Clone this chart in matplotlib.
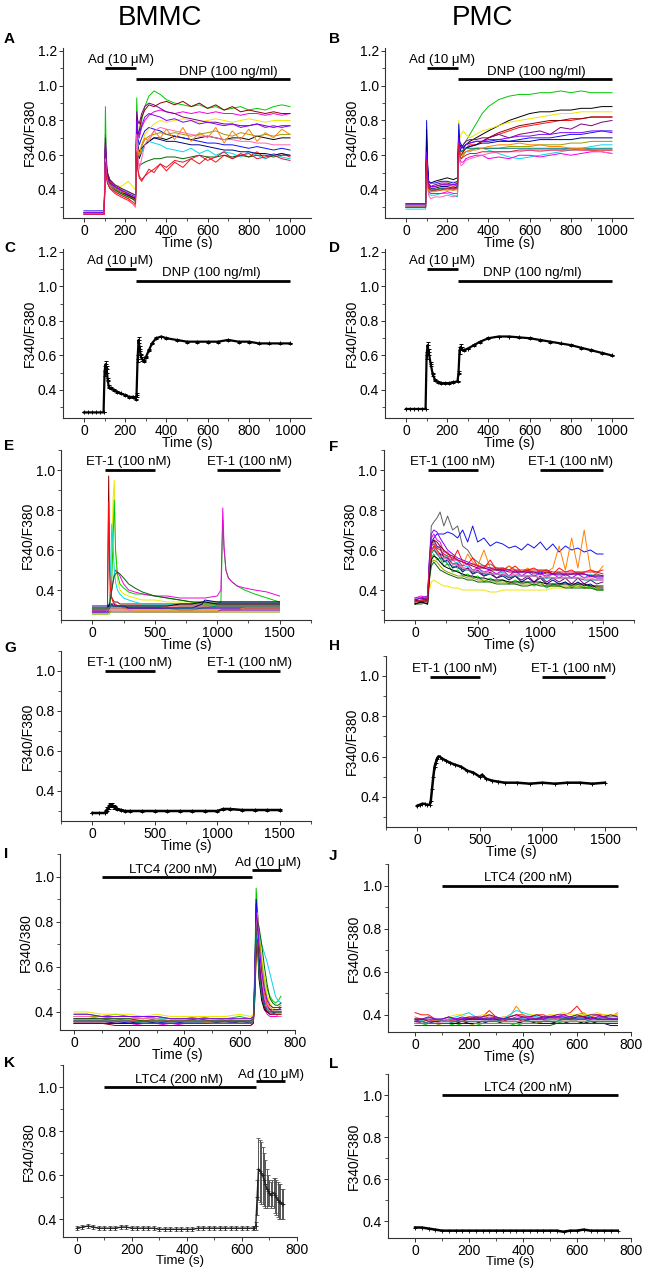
import matplotlib
matplotlib.use('Agg')
import matplotlib.pyplot as plt
from matplotlib import font_manager
import numpy as np

names = {f.name for f in font_manager.fontManager.ttflist}
FONT = 'Liberation Sans Narrow' if 'Liberation Sans Narrow' in names else 'Liberation Sans'
plt.rcParams['font.family'] = [FONT, 'DejaVu Sans']

# ---------------- DATA (ratios in hundredths) ----------------
# Panel A : BMMC, Ad then DNP (single cells)
tA = [0, 98, 104, 108, 114, 125, 150, 180, 215, 250, 256, 261, 268, 280, 295, 315, 340, 370, 400, 440,
      480, 520, 560, 600, 640, 680, 720, 760, 800, 840, 880, 920, 960, 1000]
A_traces = [
    [27,27,62,52,47,44,41,39,37,35, 70,62,58,62,66,68,70,70,69,71, 70,69,70,71,70,69,70,70,69,71, 70,69,70,70],
    [26,26,55,48,44,41,38,36,34,31, 60,52,47,45,48,50,52,55,51,56, 53,58,55,59,56,60,58,61,59,62, 58,60,61,59],
    [27,27,88,60,50,46,43,41,39,37, 93,75,70,80,88,94,97,95,92,90, 89,88,89,87,88,86,87,88,86,87, 86,88,89,88],
    [28,28,65,52,47,44,41,39,37,35, 82,70,66,70,74,76,75,74,72,71, 70,69,68,67,67,66,66,65,64,65, 64,63,64,63],
    [26,26,60,50,46,43,40,38,36,34, 78,66,60,62,66,68,67,66,64,63, 62,64,61,63,60,62,61,59,62,60, 58,61,59,58],
    [27,27,72,55,49,45,42,40,38,33, 80,72,70,76,80,83,85,86,85,84, 85,84,85,84,85,84,84,83,84,84, 83,84,83,84],
    [27,27,58,50,46,45,43,42,45,40, 68,62,60,66,72,75,78,80,79,80, 81,80,79,80,81,80,79,80,81,80, 79,80,80,80],
    [26,26,60,50,45,43,40,38,36,34, 70,62,60,65,69,71,72,73,72,73, 72,71,72,73,74,72,71,73,72,71, 72,71,72,72],
    [27,27,67,54,48,44,41,39,37,35, 75,66,62,64,66,68,70,69,68,68, 67,66,66,65,64,63,63,62,62,61, 61,60,61,60],
    [27,27,70,56,50,46,43,41,39,37, 85,80,78,84,88,90,89,87,85,84, 82,81,80,79,79,78,78,77,77,78, 77,76,77,77],
    [26,26,64,53,48,45,42,40,37,35, 78,72,74,82,86,89,88,90,91,89, 91,88,90,87,89,86,88,85,86,85, 84,85,84,84],
    [27,27,60,50,45,42,40,38,36,34, 66,58,54,55,56,57,58,58,59,59, 58,59,60,59,59,60,59,60,59,60, 60,59,60,60],
    [27,27,62,51,46,44,41,39,38,36, 72,64,60,66,70,68,74,70,75,69, 76,68,73,70,76,67,74,69,75,68, 73,70,75,72],
    [27,27,66,53,47,44,42,40,38,36, 80,74,72,77,82,84,83,82,80,81, 79,80,78,79,78,77,78,76,77,78, 76,77,76,77],
    [26,26,58,49,45,42,39,37,35,30, 72,60,52,58,66,70,74,76,75,74, 73,72,71,71,70,69,69,68,68,67, 67,66,66,66],
    [26,26,56,48,44,41,39,37,35,32, 62,52,48,46,48,52,50,55,53,57, 56,58,60,57,59,62,58,60,61,58, 59,60,58,57],
]
A_colors = ['black','red','green','blue','cyan','magenta','yellow','olive','navy','purple',
            'wine','darkgreen','orange','violet','pink','crimson']

# Panel B : PMC, Ad then DNP (single cells)
tB = [0, 95, 100, 104, 110, 120, 140, 170, 200, 230, 250, 256, 261, 268, 278, 290, 310, 340, 370, 400,
      450, 500, 550, 600, 650, 700, 750, 800, 850, 900, 950, 1000]
B_traces = [
    [31,31,60,50,42,40,40,41,40,41, 42,70,62,64,66,68,72,78,84,88, 92,94,95,95,96,96,97,96,97,96, 96,96],
    [32,32,70,55,45,44,45,46,47,46, 47,75,65,66,64,66,68,70,72,74, 77,80,82,84,85,85,86,86,87,87, 88,88],
    [30,30,58,48,42,41,42,43,44,45, 44,80,70,72,74,72,70,72,74,75, 77,79,80,81,82,83,84,84,85,85, 85,85],
    [31,31,62,50,43,42,42,43,43,42, 43,72,62,60,62,64,66,66,68,70, 72,74,76,77,78,79,80,80,81,82, 82,82],
    [30,30,55,46,40,39,40,41,41,40, 41,68,60,60,62,64,65,66,68,70, 73,75,77,78,79,80,80,81,81,82, 82,82],
    [32,32,65,52,44,42,43,44,44,43, 44,74,66,64,66,68,69,69,70,70, 72,70,72,73,74,72,76,75,78,77, 79,80],
    [31,31,80,58,45,44,44,45,45,44, 45,78,68,66,64,66,67,68,68,68, 69,68,69,70,70,70,71,72,72,73, 74,74],
    [30,30,75,55,42,41,41,42,42,41, 42,70,64,62,63,64,65,66,67,67, 68,68,68,68,69,69,69,69,70,70, 70,70],
    [29,29,52,44,38,37,37,38,38,37, 36,65,60,58,60,62,62,64,64,63, 61,59,58,59,60,61,62,63,64,65, 66,66],
    [30,30,55,45,39,38,38,38,39,38, 38,64,58,56,56,58,59,60,60,58, 59,58,60,60,59,60,61,60,61,62, 62,61],
    [30,30,50,42,37,35,36,36,37,36, 37,62,56,54,55,57,58,59,60,61, 62,62,62,63,62,63,63,64,63,63, 62,61],
    [31,31,58,47,40,39,40,40,41,40, 41,66,60,60,61,62,63,64,64,64, 64,65,65,65,66,66,66,67,67,68, 68,68],
    [30,30,60,48,41,40,40,41,41,41, 41,68,62,62,63,64,64,64,64,64, 64,64,64,64,64,64,64,64,64,64, 64,64],
    [31,31,56,46,40,39,39,40,40,40, 40,66,60,58,60,62,63,63,64,65, 66,66,67,66,66,65,65,64,64,63, 63,63],
    [32,32,62,50,43,42,42,43,43,43, 43,70,64,64,65,66,67,68,68,69, 69,70,71,71,72,72,73,73,73,74, 74,73],
    [30,30,57,47,41,40,40,40,41,41, 41,67,60,58,59,60,61,61,62,62, 62,62,63,63,63,63,63,63,63,63, 63,63],
]
B_colors = ['green','black','yellow','red','wine','purple','blue','navy','cyan','magenta',
            'pink','olive','teal','orange','violet','crimson']

# Panel C : BMMC mean +/- SEM
tC = [0,20,40,60,80,95, 100,105,110,115,120, 130,145,160,180,200,220,240,250,
      255,260,265,270,275,280,290,300, 315,330,350,375,400,
      450,500,550,600,650,700,750,800,850,900,950,1000]
vC = [27,27,27,27,27,27, 51,55,52,46,42, 41,40,39,38,37,36,36,35,
      37,58,69,64,60,58,57,59, 63,67,70,71,70,
      69,68,68,68,68,69,68,68,67,67,67,67]
eC = [0,0,0,0,0,0, 3,2,2,1,1, 0.5,0.5,0.5,0.5,0.5,0.5,0.5,1,
      1,2,2,1.5,1,1,0.5,0.5, 0.5,0.5,0.5,0.5,0.5,
      0.5,0.5,0.5,0.5,0.5,0.5,0.5,0.5,0.5,0.5,0.5,0.5]

# Panel D : PMC mean +/- SEM
tD = [0,20,40,60,80,95, 100,105,110,120,130,140,155,170,190,210,230,250,
      255,260,265,270,280,300,330,360,400,450,500,550,600,650,700,750,800,850,900,950,1000]
vD = [29,29,29,29,29,29, 60,66,62,55,49,46,44.5,44,44,44,44.5,45,
      50,63,65,64,63,64,66,68,70,71,71,70.5,70,69,68,67,66,64.5,63,61.5,60]
eD = [0,0,0,0,0,0, 2,2,1.5,1,1,0.5,0.5,0.5,0.5,0.5,0.5,0.5,
      1,2,1.5,1,0.5,0.5,0.5,0.5,0.5,0.5,0.5,0.5,0.5,0.5,0.5,0.5,0.5,0.5,0.5,0.5,0.5]

# Panel E : BMMC, ET-1 (single cells)
tE = [0,100,120,130,137,145,155,165,175,185, 200,220,250,290,340,400,500,600,700,800,
      880,900,1000,1030,1045,1055,1070,1090,1120,1160, 1220,1300,1400,1500]
E_traces = [
    [30,30,31,97,55,40,36,35,34,34, 34,33,33,33,33,33,33,33,33,33, 33,33,33,33,33,33,33,33,33,33, 33,33,33,33],
    [29,29,30,31,33,40,60,85,95,60, 45,40,38,37,36,35,35,34,34,34, 34,32,32,32,32,32,32,32,32,32, 32,32,32,32],
    [31,31,31,32,33,35,45,65,85,60, 48,43,41,39,38,38,37,36,35,34, 33,33,33,34,75,60,50,46,44,42, 40,38,36,34],
    [30,30,31,32,34,37,40,44,48,50, 49,47,43,40,39,38,37,37,36,36, 36,36,37,40,81,62,50,46,44,42, 41,40,39,37],
    [29,29,30,31,35,50,73,62,50,44, 40,38,36,35,34,33,33,33,32,32, 32,32,32,32,32,32,32,32,32,32, 32,32,32,32],
    [30,30,31,32,33,36,40,44,47,48, 49,48,46,43,41,39,37,36,35,34, 34,34,34,34,34,34,34,34,34,34, 34,34,34,34],
    [30,30,31,84,50,40,36,34,33,33, 32,32,32,32,32,32,32,32,32,32, 32,32,32,32,32,32,32,32,32,32, 32,32,32,32],
    [31,31,31,32,32,32,32,32,32,32, 32,32,32,32,32,32,32,32,33,33, 34,34,33,33,33,33,33,33,33,33, 33,33,33,33],
    [30,30,30,30,31,31,31,31,31,31, 31,31,31,31,31,31,31,31,31,31, 31,31,31,31,31,31,31,31,31,31, 31,31,31,31],
    [32,32,32,32,33,33,33,32,32,32, 32,32,32,31,31,31,31,31,31,31, 33,35,34,34,34,34,34,34,34,34, 34,34,34,34],
    [29,29,29,30,31,32,33,33,33,32, 32,32,31,31,31,31,31,31,30,30, 31,31,31,31,31,31,31,31,31,31, 31,31,31,31],
    [28,28,28,29,29,30,30,30,30,30, 30,30,30,30,30,30,30,30,30,30, 30,30,30,30,30,30,30,30,30,30, 30,30,30,30],
    [31,31,31,31,31,31,31,31,31,31, 31,31,31,30,30,30,30,30,30,30, 30,30,30,30,30,30,30,30,30,30, 31,31,31,31],
    [29,29,29,29,29,29,29,29,29,29, 29,29,29,29,29,29,29,29,29,29, 29,29,29,30,30,30,30,30,30,30, 30,30,30,30],
    [30,30,30,30,30,30,30,30,30,30, 30,30,30,30,29,29,29,29,29,29, 29,29,29,29,29,29,29,29,29,29, 29,29,29,29],
    [31,31,31,31,31,32,32,32,32,32, 32,32,32,32,32,32,32,31,31,31, 31,31,32,32,32,32,32,32,32,32, 32,32,32,32],
    [28,28,28,28,28,29,29,29,29,29, 29,29,29,29,29,29,29,29,29,29, 29,29,29,29,29,29,29,29,29,29, 29,29,29,29],
]
E_colors = ['wine','yellow','green','magenta','cyan','darkgreen','red','black','blue','navy',
            'purple','olive','orange','violet','pink','teal','lime']

# Panel F : PMC, ET-1 (single cells)
tF = [0,50,100,115,130,150,175,200,230,260, 300,340,380,420,460,500,550,600,650,700,
      750,800,850,900,950,1000,1050,1100,1150,1200, 1250,1300,1350,1400,1450,1500]
F_traces = [
    [35,36,35,55,72,74,76,79,72,77, 70,72,62,60,56,54,52,53,51,50, 52,50,49,50,48,49,50,48,49,47, 48,49,48,47,48,47],
    [34,35,36,50,64,66,68,68,68,69, 68,66,70,64,72,64,66,62,64,63, 61,62,60,63,61,64,60,63,59,62, 60,61,59,60,58,58],
    [33,35,34,48,58,62,60,57,55,54, 55,53,52,58,54,52,60,51,50,49, 52,50,49,51,48,50,49,51,62,50, 66,51,70,50,48,52],
    [35,34,36,50,60,62,60,58,57,56, 55,60,54,53,56,52,51,55,50,51, 50,52,49,50,51,49,50,48,51,49, 50,48,49,50,49,50],
    [34,33,34,40,44,45,44,43,42,42, 41,41,40,40,40,40,40,39,39,40, 40,40,40,40,40,40,40,41,41,41, 42,42,42,42,42,41],
    [33,34,33,48,56,58,55,56,52,53, 49,50,47,48,46,47,44,46,44,45, 43,45,43,44,42,44,41,43,42,44, 41,43,41,42,40,40],
    [34,35,34,52,62,64,61,62,57,57, 53,54,51,52,49,51,48,50,48,49, 47,49,47,49,47,49,46,48,47,48, 46,48,46,48,46,46],
    [36,37,36,55,66,68,65,64,59,59, 55,55,52,53,50,51,49,50,48,50, 47,50,47,49,47,48,47,48,46,48, 46,48,46,47,46,46],
    [33,34,33,50,60,61,58,58,54,55, 51,52,49,51,48,49,47,48,46,47, 45,47,44,46,44,46,43,45,43,44, 42,44,42,43,41,41],
    [35,36,35,52,63,65,62,61,56,56, 53,53,50,51,48,50,47,49,46,48, 46,47,45,47,44,47,44,46,44,46, 43,46,43,45,43,44],
    [34,35,34,46,54,55,54,52,50,49, 48,47,47,46,46,45,45,44,44,44, 44,43,43,43,43,43,42,42,42,42, 42,42,41,41,41,40],
    [35,34,35,53,63,65,64,62,60,58, 57,55,54,53,52,51,51,50,50,50, 49,49,49,49,49,48,49,48,48,48, 48,48,48,47,47,47],
    [33,33,34,45,52,54,52,50,49,48, 47,46,46,45,45,44,44,44,43,43, 43,43,42,42,43,42,42,42,42,41, 41,41,41,41,40,40],
    [34,34,33,48,58,60,58,56,55,53, 52,51,50,50,49,49,48,48,48,47, 47,47,47,47,47,46,46,46,46,46, 46,46,45,45,45,45],
    [36,36,37,56,68,70,69,66,63,60, 58,56,55,54,53,52,51,51,50,50, 50,49,49,49,49,49,48,48,48,48, 48,48,48,47,47,47],
    [34,33,34,50,60,61,59,57,56,55, 53,52,51,50,50,49,49,48,48,48, 47,48,47,47,47,46,47,46,46,46, 46,46,46,46,45,45],
    [33,34,33,47,55,57,56,54,52,51, 50,49,48,47,47,46,46,45,45,45, 44,44,44,44,44,44,43,43,43,43, 43,43,43,42,42,42],
    [34,35,34,52,62,63,61,60,58,57, 56,55,54,53,53,52,52,51,51,51, 50,50,50,50,50,50,50,49,49,49, 49,49,49,49,49,48],
]
F_colors = ['gray','blue','orange','red','yellow','green','cyan','magenta','navy','purple',
            'olive','wine','darkgreen','teal','violet','pink','black','crimson']

# Panel G : BMMC mean, ET-1
tG = [0,50,100,110,120,130,140,150,160,170,180,200,230,260,300,400,500,600,700,800,900,1000,
      1050,1100,1200,1300,1400,1500]
vG = [29,29,29,30,31,32,33,33,33,32,32,31,30.5,30,30,30,30,30,30,30,30,30,
      31,31,30.5,30.5,30.5,30.5]
eG = [0,0,0,0.5,1,1,1,1,1,1,0.5,0.5,0.3,0.3,0.3,0.3,0.3,0.3,0.3,0.3,0.3,0.3,
      0.3,0.3,0.3,0.3,0.3,0.3]

# Panel H : PMC mean, ET-1
tH = [0,20,40,60,80,100,110,120,130,140,150,160,170,180,200,230,260,300,350,400,450,500,520,550,
      600,650,700,800,900,1000,1100,1200,1300,1400,1500]
vH = [35.5,36,36.5,36.5,36,36,38,44,50,55,57,59,60,60,59,58,57,56,55,53,52,50,51,49,
      48,47.5,47,47,46.5,47,46.5,47,47,46.5,47]

# Panel I : BMMC, LTC4 then Ad (single cells)
tI = [0,50,100,150,200,250,300,350,400,450, 500,550,600,640,650,655,660,665,670,680,
      690,700,710,720,730,740,750]
I_traces = [
    [39,39,38,39,38,37,38,37,37,38, 37,37,38,37,38,60,95,85,75,62, 55,50,47,45,44,45,47],
    [36,36,36,35,35,36,35,35,35,35, 35,36,35,35,36,55,90,80,65,50, 43,40,39,39,40,40,40],
    [37,37,37,37,36,36,37,36,36,36, 36,36,36,36,37,50,75,83,72,58, 48,43,41,40,39,39,39],
    [38,38,38,37,37,38,37,37,37,36, 36,37,36,36,37,48,70,80,76,70, 66,62,57,52,47,45,44],
    [35,35,35,35,35,34,34,35,34,34, 34,34,34,34,35,52,82,78,62,47, 41,39,38,38,38,38,38],
    [40,40,39,39,39,38,39,38,38,38, 38,38,39,38,39,48,65,78,74,65, 55,48,44,42,41,41,41],
    [35,35,35,35,35,35,35,35,35,35, 35,35,35,35,36,50,85,70,55,45, 41,40,40,40,40,40,40],
    [36,36,36,36,35,35,35,36,35,35, 35,35,36,35,36,53,88,82,66,52, 45,42,41,41,41,41,41],
    [37,37,37,36,36,36,36,36,36,37, 36,36,36,36,37,48,72,76,66,52, 45,42,41,41,41,41,42],
    [38,38,38,37,37,37,38,37,37,37, 37,37,37,37,38,52,78,82,75,62, 52,46,43,42,42,42,43],
    [36,36,36,36,36,36,36,36,36,36, 35,35,35,35,36,46,66,76,70,58, 49,44,42,41,40,40,40],
    [38,38,37,37,37,37,37,36,36,36, 36,36,36,36,37,50,78,84,72,56, 46,42,40,39,39,38,38],
    [37,37,37,37,37,36,36,36,36,36, 36,36,36,36,37,50,70,80,78,70, 60,52,46,44,43,43,44],
    [35,35,35,34,34,34,34,34,34,34, 34,34,34,34,35,45,65,72,60,48, 42,40,39,39,39,39,39],
    [39,39,38,38,38,38,38,37,37,37, 37,37,37,37,38,55,85,80,70,58, 50,45,43,42,42,42,42],
    [36,36,36,36,36,35,35,35,35,35, 35,35,35,35,36,48,74,70,58,48, 43,41,40,40,40,40,40],
]
I_colors = ['green','navy','red','cyan','magenta','yellow','black','blue','purple','olive',
            'orange','pink','darkgreen','wine','violet','teal']

# Panel J : PMC, LTC4 (single cells)
tJ = [0,25,50,75,100,125,150,175,200,225,250,275,300,325,350,375,400,425,450,475,500,
      525,550,575,600,625,650,675,700,725,750]
J_traces = [
    [41,40,40,38,37,37,38,38,39,38, 39,42,39,38,39,40,40,39,40,40, 39,39,40,41,44,40,39,40,40,39, 40],
    [39,38,38,37,38,38,37,38,38,39, 38,40,38,39,39,44,40,39,38,39, 40,39,38,39,40,41,39,40,39,39, 41],
    [38,38,37,38,37,38,38,38,38,38, 38,39,38,38,38,39,39,39,39,38, 39,38,38,38,39,39,38,39,39,38, 38],
    [36,36,35,35,35,35,36,35,35,35, 36,36,36,36,36,35,36,36,36,36, 36,36,37,37,37,36,36,36,36,36, 36],
    [37,37,36,36,36,36,36,36,36,36, 36,37,37,37,37,37,36,36,36,36, 36,36,36,36,36,36,36,36,36,35, 35],
    [38,37,39,38,37,38,39,40,41,39, 38,38,39,38,40,42,41,40,39,39, 38,39,38,39,39,40,39,38,39,39, 39],
    [37,38,37,37,38,39,40,40,39,39, 40,40,39,38,38,38,39,40,40,39, 40,40,41,40,40,40,40,41,40,40, 40],
    [36,36,36,37,37,37,37,38,38,38, 38,38,38,38,38,38,38,38,38,39, 39,39,39,38,38,38,39,38,38,38, 38],
    [38,38,39,38,38,39,38,39,38,39, 39,40,39,38,39,40,39,39,40,39, 39,40,40,39,40,39,40,40,39,40, 39],
    [37,36,36,36,36,36,36,37,36,36, 37,37,37,36,36,36,37,37,36,37, 37,36,36,37,37,36,37,36,36,36, 36],
    [36,36,36,36,35,35,35,35,35,36, 36,36,36,36,36,36,36,36,36,37, 37,37,37,37,37,37,37,37,37,37, 37],
    [38,38,37,37,37,37,37,37,38,38, 38,38,38,37,38,38,37,38,38,38, 38,38,38,38,39,39,38,38,38,38, 38],
    [36,37,36,36,37,37,37,37,37,37, 37,37,37,37,37,37,37,37,37,37, 38,38,37,37,37,37,37,37,37,37, 37],
    [35,35,35,35,35,35,35,35,35,35, 35,35,35,35,35,35,35,35,35,35, 35,36,36,36,36,36,36,36,36,36, 36],
    [37,38,38,38,38,39,38,38,39,39, 38,38,39,38,38,38,39,38,38,38, 39,39,39,39,38,38,38,39,39,38, 38],
    [37,37,36,36,36,36,37,37,37,37, 37,37,37,38,38,38,38,37,37,37, 37,37,38,38,38,38,37,37,37,37, 37],
]
J_colors = ['red','orange','magenta','green','navy','cyan','yellow','blue','purple','black',
            'olive','wine','pink','darkgreen','violet','teal']

# Panel K : BMMC mean +/- SEM, LTC4 then Ad
tK = [0,20,40,60,80,100,120,140,160,180,200,220,240,260,280,300,320,340,360,380,400,
      420,440,460,480,500,520,540,560,580,600,620,640,
      645,650,655,660,665,670,675,680,685,690,695,700,705,710,715,720,725,730,735,740,745,750]
vK = [36,36.5,37,36.5,36,36,36,36,36.5,36.5,36,36,36,36,36,35.5,35.5,35.5,35.5,35.5,35.5,
      35.5,36,36,36,36,36,36,36,36,36,36,36,
      36,37,50,63,62,61,60,58,56,54,53,52,51,52,52,51,50,49,48,48,47,47]
eK = [1]*33 + [1,2,8,14,14,14,13,12,11,9,7,6,6,6,7,8,8,8,8,8,7,7]

# Panel L : PMC mean, LTC4
tL = [0,25,50,75,100,125,150,175,200,225,250,275,300,325,350,375,400,425,450,475,500,
      525,550,575,600,625,650,675,700,725,750]
vL = [37,37,36.5,36,35.5,35.5,35.5,35.5,35.5,35.5,35.5,35.5,35.5,35.5,35.5,35.5,35.5,35.5,35.5,35.5,35.5,
      35.5,35,35.5,35.5,36,35.5,35.5,35.5,35.5,35.5]

# ---------------- STYLE ----------------
COL = {'black': '#000000', 'red': '#FF1010', 'green': '#00C800', 'blue': '#1010F0',
       'cyan': '#00D8E8', 'magenta': '#F000E0', 'yellow': '#EEE600', 'olive': '#9A9A00',
       'navy': '#000080', 'purple': '#800080', 'wine': '#8B0000', 'darkgreen': '#006400',
       'teal': '#008080', 'orange': '#FF8000', 'violet': '#8000FF', 'pink': '#FF66B3',
       'crimson': '#DC143C', 'lime': '#7FD400', 'gray': '#606060'}

W, H = 646, 1272
fig = plt.figure(figsize=(W / 100, H / 100), dpi=100)
FS = 10          # tick / axis label size
FA = 9.5         # annotation size


def make_ax(l, r, t, b):
    return fig.add_axes([l / W, 1 - b / H, (r - l) / W, (b - t) / H])


def style(ax, xlim, ylim, xt, xminor, yt, yminor, ylabel='F340/F380', xpad=-1.5, xfs=FS):
    ax.set_xlim(*xlim)
    ax.set_ylim(*ylim)
    ax.set_xticks(xt)
    ax.set_xticks(xminor, minor=True)
    ax.set_yticks(yt)
    ax.set_yticks(yminor, minor=True)
    ax.set_yticklabels(['%.1f' % v for v in yt])
    for sp in ['top', 'right']:
        ax.spines[sp].set_visible(False)
    for sp in ['left', 'bottom']:
        ax.spines[sp].set_linewidth(0.8)
        ax.spines[sp].set_color('#333333')
    ax.tick_params(which='major', direction='out', length=3, width=0.7, labelsize=FS, pad=1.5,
                   color='#333333')
    ax.tick_params(which='minor', direction='out', length=2, width=0.6, color='#333333')
    ax.set_ylabel(ylabel, fontsize=FS, labelpad=1)
    ax.set_xlabel('Time (s)', fontsize=xfs, labelpad=xpad)


def bar(ax, x0, x1, y, label, tx, ty):
    ax.plot([x0, x1], [y, y], color='k', lw=2.0, solid_capstyle='butt', clip_on=False, zorder=5)
    ax.text(tx, ty, label, ha='center', va='center', fontsize=FA, zorder=5)


def traces(ax, t, rows, cols):
    for row, c in zip(rows, cols):
        ax.plot(t, np.array(row) / 100.0, color=COL[c], lw=0.7)


def mean_err(ax, t, v, e, lw=1.6):
    ax.errorbar(t, np.array(v) / 100.0, yerr=np.array(e) / 100.0, fmt='-', marker='+',
                color='k', lw=lw, ms=3, mew=0.7, elinewidth=0.6, capsize=1.5, capthick=0.6)


xA = ([0, 200, 400, 600, 800, 1000], [100, 300, 500, 700, 900])
yA = ([0.4, 0.6, 0.8, 1.0, 1.2], [0.3, 0.5, 0.7, 0.9, 1.1])
xE = ([0, 500, 1000, 1500], [-250, 250, 750, 1250, 1750])
yE = ([0.4, 0.6, 0.8, 1.0], [0.3, 0.5, 0.7, 0.9, 1.1])
xI = ([0, 200, 400, 600, 800], [100, 300, 500, 700])
yI = ([0.4, 0.6, 0.8, 1.0], [0.5, 0.7, 0.9, 1.1])
AD = 'Ad (10 \u03bcM)'
DNP = 'DNP (100 ng/ml)'
ET = 'ET-1 (100 nM)'
LTC = 'LTC4 (200 nM)'

# A
ax = make_ax(63.4, 310.6, 47.5, 217.8)
traces(ax, tA, A_traces, A_colors)
style(ax, (-100, 1100), (0.24, 1.22), xA[0], xA[1], yA[0], yA[1])
bar(ax, 100, 250, 1.10, AD, 180, 1.148)
bar(ax, 250, 1000, 1.04, DNP, 700, 1.08)

# B
ax = make_ax(385.4, 632.6, 47.5, 217.8)
traces(ax, tB, B_traces, B_colors)
style(ax, (-100, 1100), (0.24, 1.22), xA[0], xA[1], yA[0], yA[1])
bar(ax, 100, 250, 1.10, AD, 174, 1.148)
bar(ax, 250, 1000, 1.04, DNP, 633, 1.08)

# C
ax = make_ax(63.4, 310.6, 248.5, 417.6)
mean_err(ax, tC, vC, eC)
style(ax, (-100, 1100), (0.24, 1.22), xA[0], xA[1], yA[0], yA[1])
bar(ax, 100, 250, 1.10, AD, 175, 1.148)
bar(ax, 250, 1000, 1.03, DNP, 620, 1.078)

# D
ax = make_ax(385.4, 632.6, 248.5, 417.6)
mean_err(ax, tD, vD, eD)
style(ax, (-100, 1100), (0.24, 1.22), xA[0], xA[1], yA[0], yA[1])
bar(ax, 100, 250, 1.10, AD, 175, 1.148)
bar(ax, 250, 1000, 1.03, DNP, 611, 1.078)

# E
ax = make_ax(61.3, 310.7, 450, 620)
traces(ax, tE, E_traces, E_colors)
style(ax, (-250, 1750), (0.25, 1.1), xE[0], xE[1], yE[0], yE[1])
bar(ax, 100, 500, 1.0, ET, 292, 1.04)
bar(ax, 1000, 1500, 1.0, ET, 1260, 1.04)

# F
ax = make_ax(383.7, 634.3, 450, 620)
traces(ax, tF, F_traces, F_colors)
style(ax, (-250, 1750), (0.25, 1.1), xE[0], xE[1], yE[0], yE[1])
bar(ax, 100, 500, 1.0, ET, 296, 1.04)
bar(ax, 1000, 1500, 1.0, ET, 1237, 1.04)

# G
ax = make_ax(61.3, 310.7, 651, 821)
mean_err(ax, tG, vG, eG, lw=1.8)
style(ax, (-250, 1750), (0.25, 1.1), xE[0], xE[1], yE[0], yE[1])
bar(ax, 100, 500, 1.0, ET, 296, 1.04)
bar(ax, 1000, 1500, 1.0, ET, 1257, 1.04)

# H
ax = make_ax(385.7, 636.3, 655.8, 827)
ax.plot(tH, np.array(vH) / 100.0, color='k', lw=1.8, marker='+', ms=3, mew=0.7)
style(ax, (-250, 1750), (0.25, 1.1), xE[0], xE[1], yE[0], yE[1])
bar(ax, 100, 500, 0.995, ET, 296, 1.035)
bar(ax, 1000, 1500, 0.995, ET, 1250, 1.035)

# I
ax = make_ax(60.2, 294.8, 854.3, 1030)
traces(ax, tI, I_traces, I_colors)
style(ax, (-50, 800), (0.32, 1.1), xI[0], xI[1], yI[0], yI[1], ylabel='F340/380', xpad=-1.3)
bar(ax, 100, 645, 1.0, LTC, 360, 1.03)
bar(ax, 645, 750, 1.03, AD, 704, 1.06)

# J
ax = make_ax(388, 631, 864.3, 1032)
traces(ax, tJ, J_traces, J_colors)
style(ax, (-100, 800), (0.32, 1.1), xI[0], xI[1], yI[0], yI[1], xpad=-1.3)
bar(ax, 100, 750, 1.0, LTC, 420, 1.035)

# K
ax = make_ax(63.2, 297, 1065.3, 1237)
ax.errorbar(tK, np.array(vK) / 100.0, yerr=np.array(eK) / 100.0, fmt='-', marker='+',
            color='#222222', ecolor='#555555', lw=1.0, ms=2.5, mew=0.6, elinewidth=0.7,
            capsize=1.2, capthick=0.6)
style(ax, (-50, 800), (0.32, 1.1), xI[0], xI[1], yI[0], yI[1], ylabel='F340/380',
      xpad=-1.3, xfs=9.5)
bar(ax, 100, 650, 1.0, LTC, 372, 1.035)
bar(ax, 650, 755, 1.03, AD, 705, 1.057)

# L
ax = make_ax(388, 631, 1074.3, 1238)
ax.plot(tL, np.array(vL) / 100.0, color='k', lw=1.8, marker='+', ms=2.5, mew=0.6)
style(ax, (-100, 800), (0.32, 1.1), xI[0], xI[1], yI[0], yI[1], xpad=-1.3, xfs=9.5)
bar(ax, 100, 750, 1.0, LTC, 420, 1.035)

# Column headers and panel letters
fig.text(160 / W, 1 - 18 / H, 'BMMC', ha='center', va='center', fontsize=20,
         family=['Liberation Sans', 'DejaVu Sans'])
fig.text(483 / W, 1 - 18 / H, 'PMC', ha='center', va='center', fontsize=20,
         family=['Liberation Sans', 'DejaVu Sans'])
letters = [('A', 4, 39), ('B', 329, 39), ('C', 4, 248), ('D', 329, 248),
           ('E', 4, 446), ('F', 329, 447), ('G', 4, 648), ('H', 329, 646),
           ('I', 4, 854), ('J', 329, 856), ('K', 4, 1063), ('L', 329, 1064)]
for s, x, y in letters:
    fig.text(x / W, 1 - y / H, s, ha='left', va='center', fontsize=11, fontweight='bold',
             family=['Liberation Sans', 'DejaVu Sans'])

fig.savefig('out.png', dpi=100)
